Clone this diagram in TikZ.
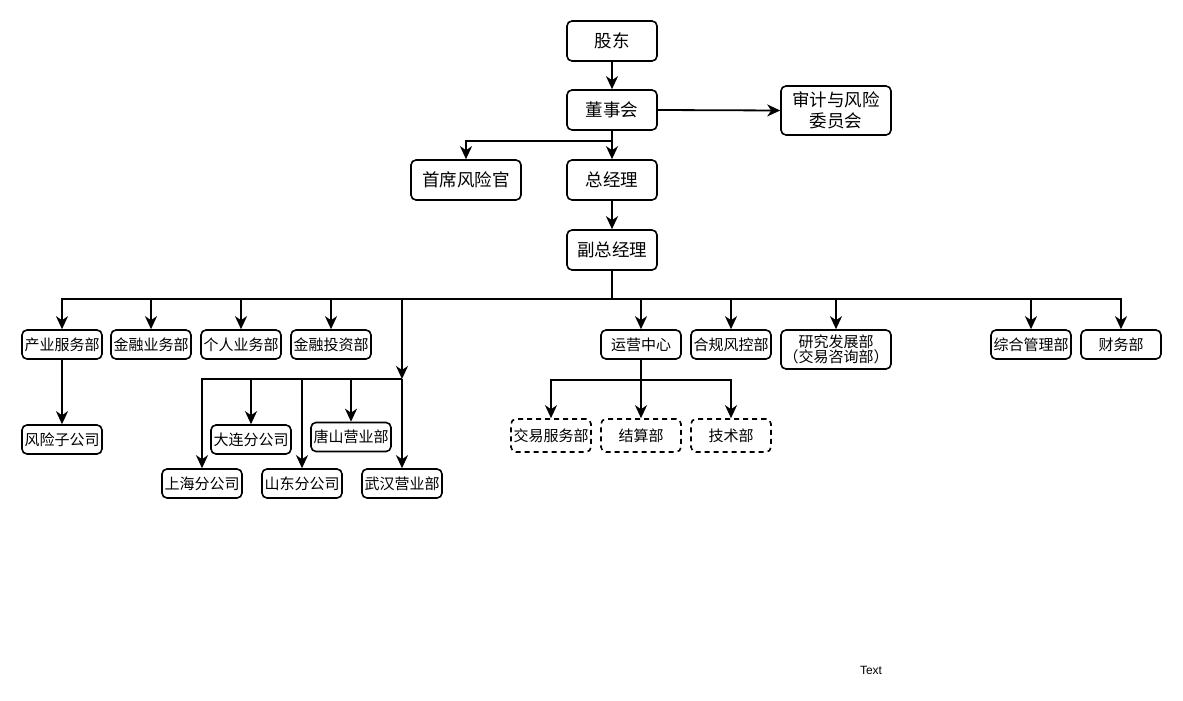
\documentclass[tikz,border=0pt]{standalone}
\usepackage{fontspec}
\newfontfamily\cjk{Noto Sans CJK SC}
\setmainfont{Liberation Sans}
\usetikzlibrary{arrows.meta}
\begin{document}
\begin{tikzpicture}[x=1pt,y=-1pt,
  box/.style={draw, line width=1.6pt, rounded corners=5pt, align=center, inner sep=0pt, font=\cjk\fontsize{15}{16}\selectfont},
  topbox/.style={box, minimum width=90pt, minimum height=40pt, font=\cjk\fontsize{17.5}{20}\selectfont},
  dept/.style={box, minimum width=80pt, minimum height=29pt},
  dbox/.style={dept, dash pattern=on 5pt off 4pt, minimum height=33pt},
  conn/.style={line width=1.8pt, -{Stealth[length=13pt,width=12pt,inset=4pt]}},
  plain/.style={line width=1.6pt}
]
\useasboundingbox (0,0) rectangle (1183,701);
% top
\node[topbox] (gd) at (612,41) {股东};
\node[topbox] (dsh) at (612,110) {董事会};
\node[topbox, minimum width=110pt, minimum height=49pt, font=\cjk\fontsize{17.5}{21}\selectfont] (sj) at (836,110.5) {审计与风险\\委员会};
\node[topbox, minimum width=110pt] (cro) at (466,180) {首席风险官};
\node[topbox] (zjl) at (612,180) {总经理};
\node[topbox] (fz) at (612,250) {副总经理};
% departments
\node[dept] (cy) at (62,344.5) {产业服务部};
\node[dept] (jr) at (151,344.5) {金融业务部};
\node[dept] (gr) at (241,344.5) {个人业务部};
\node[dept] (tz) at (331,344.5) {金融投资部};
\node[dept] (yy) at (641,344.5) {运营中心};
\node[dept] (hg) at (731,344.5) {合规风控部};
\node[dept, minimum width=110pt, minimum height=39pt, font=\cjk\fontsize{15}{15}\selectfont] (yj) at (836,349.5) {研究发展部\\（交易咨询部）};
\node[dept] (zh) at (1031,344.5) {综合管理部};
\node[dept] (cw) at (1121,344.5) {财务部};
% subsidiaries
\node[dept] (fx) at (62,439.5) {风险子公司};
\coordinate (hub) at (402,379);
\node[dept] (sh) at (202,483.5) {上海分公司};
\node[dept] (dl) at (251,439.5) {大连分公司};
\node[dept] (sd) at (302,483.5) {山东分公司};
\node[dept] (ts) at (351,437) {唐山营业部};
\node[dept] (wh) at (402,483.5) {武汉营业部};
\node[dbox] (jy) at (551,435.5) {交易服务部};
\node[dbox] (js) at (641,435.5) {结算部};
\node[dbox] (js2) at (731,435.5) {技术部};
\node[font=\fontsize{12}{14}\selectfont] (txt) at (871,670) {Text};
% connectors
\draw[conn] (gd) -- (dsh);
\draw[conn] (dsh.east) -- (sj.west);
\draw[conn] (dsh.south) -- ++(0,10) -| (cro.north);
\draw[conn] (dsh) -- (zjl);
\draw[conn] (zjl) -- (fz);
\foreach \t in {cy,jr,gr,tz,yy,hg,yj,zh,cw}
  \draw[conn] (fz.south) -- ++(0,28) -| (\t.north);
\draw[conn] (fz.south) -- ++(0,28) -| (hub);
\draw[conn] (cy) -- (fx);
\foreach \t in {sh,dl,sd,ts}
  \draw[conn] (hub) -| (\t.north);
\draw[conn] (hub) -- (wh.north);
\foreach \t in {jy,js,js2}
  \draw[conn] (yy.south) -- ++(0,20) -| (\t.north);
\end{tikzpicture}
\end{document}
